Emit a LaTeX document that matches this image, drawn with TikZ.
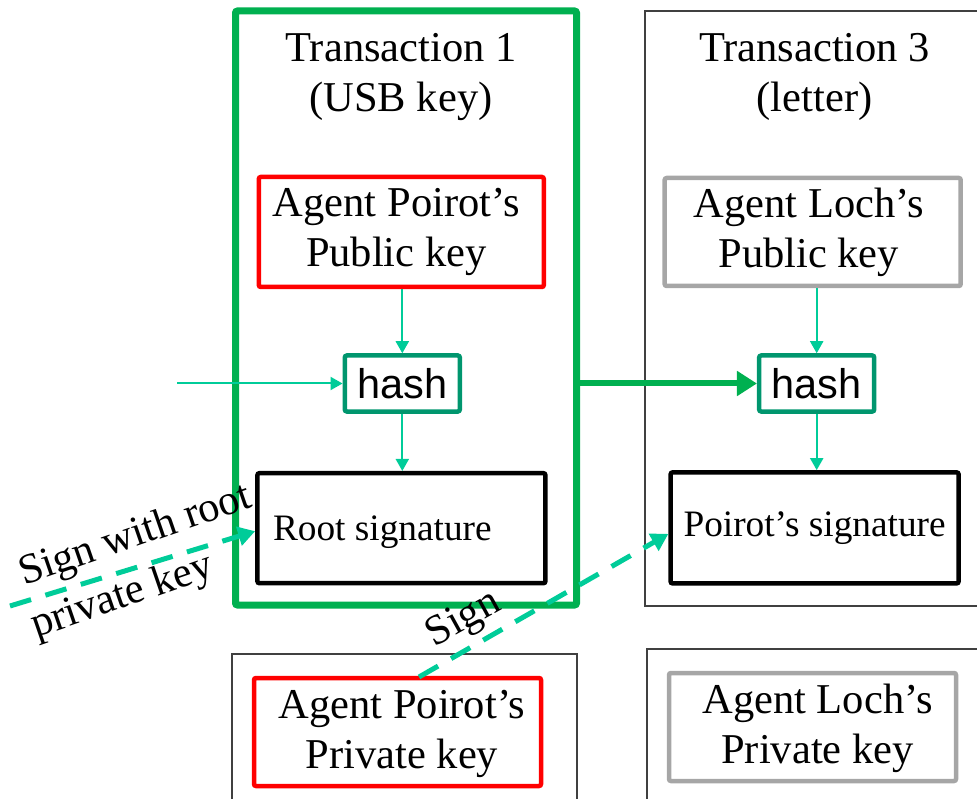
\documentclass[tikz,border=0pt]{standalone}
\usepackage{fontspec}
\setmainfont{Liberation Serif}
\newfontfamily\arialfont{Liberation Sans}
\usetikzlibrary{arrows.meta,calc}
\definecolor{txgreen}{HTML}{00B050}
\definecolor{linkteal}{HTML}{00CC99}
\definecolor{hashteal}{HTML}{00966E}
\definecolor{keyred}{HTML}{FF0000}
\definecolor{keygray}{HTML}{A6A6A6}
\definecolor{framegray}{HTML}{404040}
\begin{document}
\begin{tikzpicture}[x=1pt,y=-1pt,
  bigtext/.style={font=\fontsize{42.5}{50}\selectfont},
  sigtext/.style={font=\fontsize{37.3}{44}\selectfont},
  frame/.style={draw=framegray,line width=1.3pt,inner sep=0pt},
  txframe/.style={draw=txgreen,line width=7pt,rounded corners=2pt,inner sep=0pt},
  keybox/.style={line width=4.5pt,rounded corners=2pt,inner sep=0pt},
  keytext/.style={bigtext,align=center,inner sep=0pt},
  sigbox/.style={draw=black,line width=4.5pt,rounded corners=2pt,inner sep=0pt,sigtext},
  hashbox/.style={draw=hashteal,line width=4.5pt,rounded corners=2pt,inner sep=0pt,
    minimum width=115pt,minimum height=56pt,font=\arialfont\fontsize{41.5}{48}\selectfont},
  flow/.style={draw=linkteal,line width=2pt,-{Triangle[length=12pt,width=13pt]}},
  chain/.style={draw=txgreen,line width=6pt,-{Triangle[length=20pt,width=24pt]}},
  signarrow/.style={draw=linkteal,line width=5pt,dash pattern=on 22pt off 15pt,
    -{Triangle[length=17pt,width=19pt]}}]
\useasboundingbox (0,0) rectangle (977,799);

% outer frames of the transactions and key stores
\node[txframe,minimum width=341pt,minimum height=594pt] (tx1) at (406,308) {};
\node[frame,minimum width=333pt,minimum height=595pt] (tx3) at (811.5,308.5) {};
\node[frame,minimum width=345pt,minimum height=156pt] (store1) at (404.5,732) {};
\node[frame,minimum width=338pt,minimum height=161pt] (store2) at (816,729.5) {};

% transaction titles
\node[bigtext,anchor=base] (t1a) at (401,62) {Transaction 1};
\node[bigtext,anchor=base] (t1b) at (401,112) {(USB key)};
\node[bigtext,anchor=base] (t3a) at (814.5,62) {Transaction 3};
\node[bigtext,anchor=base] (t3b) at (814.5,112) {(letter)};

% public keys
\node[keybox,draw=keyred,minimum width=285pt,minimum height=110pt] (pub1) at (401.3,232) {};
\node[keytext] (pub1text) at ($(pub1)+(-5,0)$) {Agent Poirot’s\\Public key};
\node[keybox,draw=keygray,minimum width=296pt,minimum height=108pt] (pub2) at (812.7,232) {};
\node[keytext] (pub2text) at ($(pub2)+(-4,0)$) {Agent Loch’s\\Public key};

% hash boxes
\node[hashbox] (hash1) at (402.3,383.5) {hash};
\node[hashbox] (hash2) at (816.7,383.5) {hash};

% signatures
\node[sigbox,minimum width=288pt,minimum height=110pt] (sig1) at (401.4,528.2) {};
\node[sigtext,anchor=base west] (sig1text) at (269.5,540) {Root signature};
\node[sigbox,minimum width=288pt,minimum height=111pt] (sig2) at (814.6,527.9)
  {Poirot’s signature};

% private keys
\node[keybox,draw=keyred,minimum width=287pt,minimum height=108pt] (priv1) at (397.5,732) {};
\node[keytext] (priv1text) at ($(priv1)+(4.5,2)$) {Agent Poirot’s\\Private key};
\node[keybox,draw=keygray,minimum width=287pt,minimum height=108pt] (priv2) at (812.5,727) {};
\node[keytext] (priv2text) at ($(priv2)+(5,1)$) {Agent Loch’s\\Private key};

% hashing flow
\coordinate (feed) at (177,383.5);
\draw[flow] (feed) -- (hash1.west);
\draw[flow] (pub1.south -| hash1) -- (hash1.north);
\draw[flow] (hash1.south) -- (hash1.south |- sig1.north);
\draw[flow] (pub2.south -| hash2) -- (hash2.north);
\draw[flow] (hash2.south) -- (hash2.south |- sig2.north);
\draw[chain] (tx1.east |- hash2) -- (hash2.west);

% signing
\coordinate (rootkey) at (10,606);
\coordinate (privout) at (419,677);
\draw[signarrow] (rootkey) -- ($(sig1.west)+(0,3)$);
\draw[signarrow] (privout) -- ($(sig2.west)+(0,6)$);

\node[bigtext,anchor=base,rotate=19] (rootlabela) at (139,546) {Sign with root};
\node[bigtext,anchor=base,rotate=19] (rootlabelb) at (126,607) {private key};
\node[bigtext,rotate=29] (signlabel) at (464,620) {Sign};
\end{tikzpicture}
\end{document}
